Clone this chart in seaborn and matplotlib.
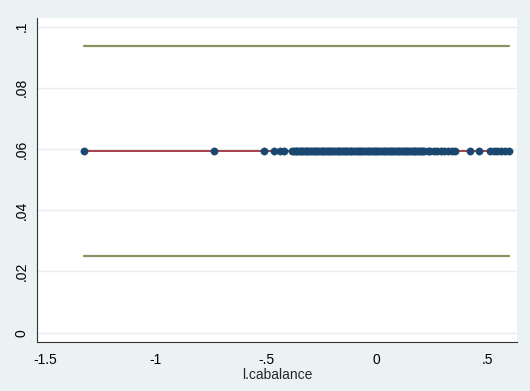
import numpy as np
import pandas as pd
import matplotlib
matplotlib.use("Agg")
import matplotlib.pyplot as plt
import seaborn as sns

# --- data ---
cabalance = [
    -1.324, -0.738, -0.511, -0.466, -0.44, -0.418,
    -0.385, -0.375, -0.368, -0.36, -0.352, -0.345, -0.338, -0.33, -0.322, -0.315,
    -0.305, -0.298, -0.29, -0.282, -0.275, -0.266, -0.258, -0.25, -0.242, -0.235,
    -0.226, -0.218, -0.21, -0.202, -0.195, -0.186, -0.178, -0.17, -0.162, -0.155,
    -0.146, -0.138, -0.13, -0.122, -0.115, -0.106, -0.098, -0.09, -0.082, -0.075,
    -0.066, -0.058, -0.05, -0.042, -0.035, -0.026, -0.018, -0.01, -0.002, 0.005,
    0.013, 0.022, 0.03, 0.038, 0.046, 0.054, 0.062, 0.07, 0.078, 0.086,
    0.094, 0.102, 0.11, 0.118, 0.126, 0.134, 0.142, 0.15, 0.158, 0.166,
    0.174, 0.182, 0.19, 0.198, 0.204,
    0.215, 0.23, 0.242, 0.258, 0.27, 0.29, 0.305, 0.32, 0.34, 0.355,
    0.422, 0.462, 0.513, 0.528, 0.545, 0.562, 0.58, 0.598,
]
effect = 0.0595      # fitted value (flat)
upper_ci = 0.0937
lower_ci = 0.0251

x_ticks = [-1.5, -1, -0.5, 0, 0.5]
x_ticklabels = ["-1.5", "-1", "-.5", "0", ".5"]
y_ticks = [0, 0.02, 0.04, 0.06, 0.08, 0.1]
y_ticklabels = ["0", ".02", ".04", ".06", ".08", ".1"]

BG = "#EAF2F3"
NAVY = "#1A476F"
MAROON = "#A0323A"
OLIVE = "#8E8F62"

sns.set_theme(style="white")
plt.rcParams["font.family"] = ["Liberation Sans", "DejaVu Sans"]

df = pd.DataFrame({"x": cabalance, "y": [effect] * len(cabalance)})
span = [min(cabalance), max(cabalance)]
bounds = pd.DataFrame({"x": span * 2,
                       "y": [upper_ci, upper_ci, lower_ci, lower_ci],
                       "b": ["upper", "upper", "lower", "lower"]})

fig = plt.figure(figsize=(5.3, 3.91), dpi=100, facecolor=BG)
ax = fig.add_axes([0.0698, 0.1253, 0.9057, 0.8287])
ax.set_facecolor("white")

# light horizontal grid at the y ticks
for y in y_ticks:
    ax.axhline(y, color="#E6EEF0", lw=1.0, zorder=0)

sns.lineplot(data=bounds, x="x", y="y", units="b", estimator=None,
             color=OLIVE, lw=1.6, ax=ax, zorder=2)
sns.lineplot(data=df, x="x", y="y", color=MAROON, lw=1.3, ax=ax, zorder=3,
             errorbar=None)
sns.scatterplot(data=df, x="x", y="y", color=NAVY, s=28, edgecolor=NAVY,
                linewidth=0.3, ax=ax, zorder=4)

ax.set_xlim(-1.5376, 0.634)
ax.set_ylim(-0.00304, 0.1028)
ax.set_xticks(x_ticks)
ax.set_xticklabels(x_ticklabels)
ax.set_yticks(y_ticks)
ax.set_yticklabels(y_ticklabels, rotation=90, va="center")
ax.tick_params(axis="both", direction="out", length=4, width=0.8,
               color="#333333", labelsize=10, labelcolor="black")
ax.tick_params(axis="x", pad=4)
ax.tick_params(axis="y", pad=2)

for side in ["top", "right"]:
    ax.spines[side].set_visible(False)
for side in ["left", "bottom"]:
    ax.spines[side].set_color("#333333")
    ax.spines[side].set_linewidth(0.8)

ax.set_xlabel("l.cabalance", fontsize=10, labelpad=0.5)
ax.set_ylabel("")

fig.savefig("out.png", dpi=100, facecolor=BG)
